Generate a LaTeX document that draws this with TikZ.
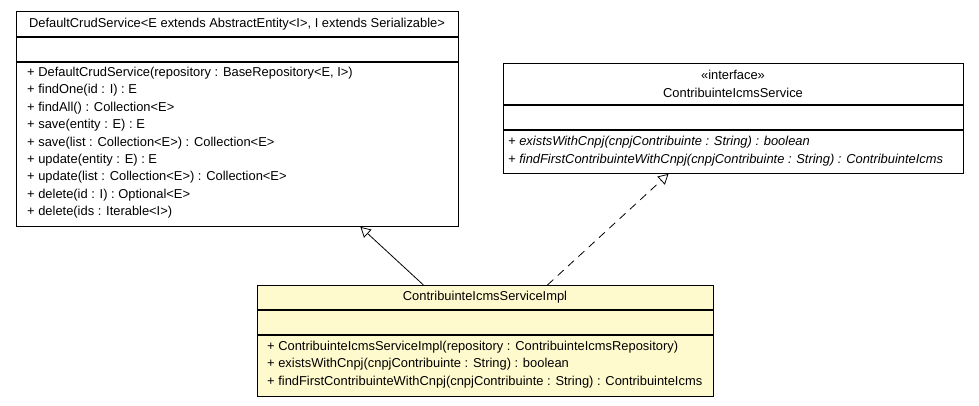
\documentclass[tikz,border=0pt]{standalone}
\usepackage{fontspec}
\setmainfont{Liberation Sans}
\usetikzlibrary{arrows.meta}
\definecolor{implfill}{RGB}{255,250,205}
\tikzset{
  classbox/.style={draw, line width=0.9pt, inner sep=0pt, anchor=north west},
  sepline/.style={line width=1.4pt},
  member/.style={anchor=west, inner sep=0pt, font=\fontsize{12.9}{15}\selectfont},
  title/.style={inner sep=0pt, font=\fontsize{12.9}{15}\selectfont},
  extends/.style={-{Triangle[open,length=10pt,width=11pt]}, line width=0.8pt},
  realizes/.style={extends, dash pattern=on 8pt off 6pt}
}
\begin{document}
\begin{tikzpicture}[x=1pt,y=-1pt]
  \useasboundingbox (0,0) rectangle (979,405);
  % DefaultCrudService
  \node[classbox, minimum width=442pt, minimum height=215pt] (crud) at (16,11) {};
  \draw[sepline] (16,37) -- (458,37);
  \draw[sepline] (16,62) -- (458,62);
  \node[title] (crudname) at (237,24) {DefaultCrudService<E extends AbstractEntity<I>, I extends Serializable>};
  \node[member] (crudm1) at (27,73) {+ DefaultCrudService(repository : BaseRepository<E, I>)};
  \node[member] (crudm2) at (27,90) {+ findOne(id : I) : E};
  \node[member] (crudm3) at (27,108) {+ findAll() : Collection<E>};
  \node[member] (crudm4) at (27,125) {+ save(entity : E) : E};
  \node[member] (crudm5) at (27,143) {+ save(list : Collection<E>) : Collection<E>};
  \node[member] (crudm6) at (27,160) {+ update(entity : E) : E};
  \node[member] (crudm7) at (27,177) {+ update(list : Collection<E>) : Collection<E>};
  \node[member] (crudm8) at (27,195) {+ delete(id : I) : Optional<E>};
  \node[member] (crudm9) at (27,212) {+ delete(ids : Iterable<I>)};
  % ContribuinteIcmsService
  \node[classbox, minimum width=460pt, minimum height=110pt] (iface) at (503,63) {};
  \draw[sepline] (503,105) -- (963,105);
  \draw[sepline] (503,130) -- (963,130);
  \node[title] (ifacestereo) at (733,75) {«interface»};
  \node[title] (ifacename) at (733,93) {ContribuinteIcmsService};
  \node[member] (ifacem1) at (508,142) {\itshape + existsWithCnpj(cnpjContribuinte : String) : boolean};
  \node[member] (ifacem2) at (508,160) {\itshape + findFirstContribuinteWithCnpj(cnpjContribuinte : String) : ContribuinteIcms};
  % ContribuinteIcmsServiceImpl
  \node[classbox, fill=implfill, minimum width=456pt, minimum height=111pt] (impl) at (257,285) {};
  \draw[sepline] (257,310) -- (713,310);
  \draw[sepline] (257,335) -- (713,335);
  \node[title] (implname) at (485,297) {ContribuinteIcmsServiceImpl};
  \node[member] (implm1) at (267,347) {+ ContribuinteIcmsServiceImpl(repository : ContribuinteIcmsRepository)};
  \node[member] (implm2) at (267,364) {+ existsWithCnpj(cnpjContribuinte : String) : boolean};
  \node[member] (implm3) at (267,382) {+ findFirstContribuinteWithCnpj(cnpjContribuinte : String) : ContribuinteIcms};
  % relations
  \draw[extends] ([xshift=-62pt]impl.north) -- ([xshift=123pt]crud.south);
  \draw[realizes] ([xshift=62pt]impl.north) -- ([xshift=-65pt]iface.south);
\end{tikzpicture}
\end{document}
